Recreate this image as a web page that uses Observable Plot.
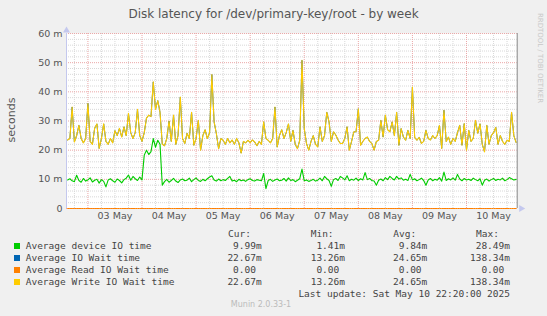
<!DOCTYPE html>
<html><head><meta charset="utf-8">
<script src="https://cdn.jsdelivr.net/npm/d3@7"></script>
<script src="https://cdn.jsdelivr.net/npm/@observablehq/plot@0.6"></script>
<style>
html,body{margin:0;padding:0;background:#F0F0F0;}
#wrap{position:relative;width:547px;height:316px;overflow:hidden;background:#F0F0F0;font-family:"DejaVu Sans",sans-serif;}
#wrap svg.plot{position:absolute;left:0;top:0;}
.t{position:absolute;white-space:pre;line-height:1;}
.mono{font-family:"DejaVu Sans Mono",monospace;font-size:9.5px;color:#444;}
</style></head><body><div id="wrap"></div>
<script>
// ---- data (milliseconds shown as "m"), hourly samples starting 2025-05-02 15:00 UTC ----
const firstSampleUTC = Date.UTC(2025, 4, 2, 15);
const deviceIoTime = [
9.8,10.2,9.5,9.2,11.4,9.6,9.0,10.3,9.4,9.8,10.5,9.1,9.7,10.0,8.7,9.9,9.3,7.4,9.8,10.2,
9.5,9.0,10.1,9.6,8.8,9.9,10.4,11.5,9.7,11.0,10.2,9.6,10.8,9.8,18.3,20.0,18.5,19.5,24.0,21.0,
23.4,22.0,8.0,9.2,10.0,9.0,9.6,10.3,9.4,8.9,9.8,10.1,9.5,9.7,10.4,9.2,9.9,10.5,9.6,9.3,
10.0,9.5,10.2,10.8,11.2,9.8,9.4,10.1,9.5,9.9,9.6,10.3,11.0,9.4,9.7,9.2,10.0,9.5,9.8,9.3,
9.9,10.2,9.6,9.4,9.9,9.7,9.5,12.0,6.8,9.6,10.0,9.3,9.8,10.1,9.5,9.7,10.3,9.4,10.5,9.6,
9.9,9.2,9.7,10.2,13.5,9.5,9.8,9.3,9.6,10.0,9.4,9.7,10.4,9.5,11.0,10.2,9.6,7.6,9.9,10.3,
9.6,11.0,10.5,9.8,11.2,9.5,10.0,9.7,10.4,9.6,10.2,9.8,12.3,9.9,10.3,9.6,9.4,8.0,9.7,10.1,
9.5,10.6,9.9,11.0,10.3,9.8,11.0,10.1,10.5,9.7,10.0,9.6,11.7,9.8,10.2,9.5,9.9,10.4,9.6,8.0,
9.8,10.3,9.5,10.0,9.7,10.6,9.4,12.5,9.6,10.2,9.8,10.5,9.7,11.7,10.1,9.5,10.3,9.8,10.0,9.6,
10.4,9.9,9.5,10.2,8.0,9.7,10.1,9.4,9.9,10.3,9.6,10.0,9.8,10.4,9.5,9.9,10.6,10.2,9.8,9.99];
const ioWaitTime = [
23.5,24,34.8,22.8,25,28.5,24,22.5,24,36,23,22,27.5,29,20.6,24,29,23,22,24,
22.5,26.7,25,27.5,24.5,28,25,32.6,26,24,26,34,25,23,26,31,32,31.5,43.4,34,
37,33,22,21.5,24,30,23,32,22,25,38.2,24,22.3,25.8,24,33,21.7,24,30.2,20,
25,27,24,26,45.9,29.7,25.7,20.5,24,23.4,22,24,22.5,23.5,22,24,22.5,19,23,22.5,
23.4,22.6,23.5,22.8,21.5,23,22,29.7,24,23.4,22.5,24,34.8,21.1,25,27,24,26,29,23,
26.8,22,20.5,23.4,50.8,27.4,22.3,20,23,25,22,21.1,28,23,25,33,29.7,23,26.3,25.2,
23.5,22.3,22.3,24,28,20,23,26.3,26.3,34.2,21.7,23,24,24.5,23,22.3,20,23,23.4,30.2,
24.5,32,27,26.3,29.7,25,33,21.7,27.4,24.5,23.4,26.8,24,41.6,24.4,23.4,24.4,22.3,23,26.8,
24,23.5,25,24,25,28.5,20.6,33.7,23,24.5,22,24,23,26,28.5,21.7,29.1,20,26.8,23,
24,30.2,25.8,29,22,19.4,28.5,22,25,26,27.8,22,25,23,22,23.4,23,33,25,22.67];
const writeIoWaitTime = ioWaitTime;               // identical to IO wait in the source
const readIoWaitTime = ioWaitTime.map(() => 0);   // read IO wait is 0.00 throughout

const seriesLabels = ["Average device IO time","Average IO Wait time","Average Read IO Wait time","Average Write IO Wait time"];
const seriesColors = ["#00CC00","#0066B3","#FF8000","#FFCC00"];
const curValues = ["9.99m","22.67m","0.00 ","22.67m"];
const minValues = ["1.41m","13.26m","0.00 ","13.26m"];
const avgValues = ["9.84m","24.65m","0.00 ","24.65m"];
const maxValues = ["28.49m","138.34m","0.00 ","138.34m"];
const yMajorTicks = [0,10,20,30,40,50,60];
const yMinorTicks = [2,4,6,8,12,14,16,18,22,24,26,28,32,34,36,38,42,44,46,48,52,54,56,58];
const titleText = "Disk latency for /dev/primary-key/root - by week";
const lastUpdate = "Last update: Sat May 10 22:20:00 2025";

// ---- build ----
const rows = deviceIoTime.map((v, i) => ({
  t: new Date(firstSampleUTC + i * 3600e3),
  dev: v, wait: ioWaitTime[i], read: readIoWaitTime[i], write: writeIoWaitTime[i]
}));
const xStart = new Date(Date.UTC(2025,4,2,14,30));
const xEnd = new Date(Date.UTC(2025,4,10,22,30));
const dayLines = d3.utcDay.range(new Date(Date.UTC(2025,4,3)), new Date(Date.UTC(2025,4,11)));
const sixHourLines = d3.utcHour.every(6).range(xStart, xEnd).filter(d => d.getUTCHours() !== 0);
const dayLabels = dayLines.map(d => d3.utcHour.offset(d, 12));
const minorC = "#D8D8D8", majorC = "#EBA8A8", axisC = "#C4C8EE";

const chart = Plot.plot({
  width: 547, height: 316,
  marginTop: 33, marginBottom: 108, marginLeft: 66, marginRight: 30.3,
  x: {type: "utc", domain: [xStart, xEnd]},
  y: {domain: [0, 60]},
  style: {background: "#F0F0F0", fontFamily: "DejaVu Sans", fontSize: "9.5px", color: "#555", overflow: "visible"},
  marks: [
    Plot.frame({fill: "white", stroke: "none"}),
    Plot.ruleY(yMinorTicks, {stroke: minorC, strokeDasharray: "1,1"}),
    Plot.ruleX(sixHourLines, {stroke: minorC, strokeDasharray: "1,1"}),
    Plot.ruleY(yMajorTicks, {stroke: majorC, strokeDasharray: "1,1"}),
    Plot.ruleX(dayLines, {stroke: majorC, strokeDasharray: "1,1"}),
    Plot.axisY({ticks: yMajorTicks, tickSize: 0, tickPadding: 4, label: null,
      tickFormat: v => v === 0 ? "0" : v + " m"}),
    Plot.axisX({ticks: dayLabels, tickSize: 0, tickPadding: 4, label: null,
      tickFormat: d3.utcFormat("%d %b")}),
    Plot.ruleX([xStart], {stroke: axisC}),
    Plot.ruleX([xEnd], {stroke: "#888"}),
    Plot.dot([0], {frameAnchor: "top-left", symbol: "triangle", r: 2.6, dy: -3, fill: axisC, stroke: "none"}),
    Plot.dot([0], {frameAnchor: "bottom-right", symbol: "triangle", r: 2.6, dx: 4, rotate: 90, fill: axisC, stroke: "none"}),
    Plot.line(rows, {x: "t", y: "dev", stroke: seriesColors[0], strokeWidth: 1.1}),
    Plot.line(rows, {x: "t", y: "wait", stroke: seriesColors[1], strokeWidth: 1}),
    Plot.line(rows, {x: "t", y: "read", stroke: seriesColors[2], strokeWidth: 1}),
    Plot.line(rows, {x: "t", y: "write", stroke: seriesColors[3], strokeWidth: 1.1})
  ]
});
chart.classList.add("plot");
const wrap = document.getElementById("wrap");
wrap.appendChild(chart);

function addText(txt, cls, css) {
  const d = document.createElement("div");
  d.className = "t " + cls;
  d.textContent = txt;
  Object.assign(d.style, css);
  wrap.appendChild(d);
  return d;
}
// title
addText(titleText, "", {left: "0", width: "547px", textAlign: "center", top: "7.5px", fontSize: "12px", color: "#555"});
// vertical axis title
addText("seconds", "", {left: "11px", top: "120px", fontSize: "11px", color: "#555", transform: "translate(-50%,-50%) rotate(-90deg)"});
// watermark
addText("RRDTOOL / TOBI OETIKER", "", {left: "539px", top: "58px", fontSize: "7px", color: "#C8C8C8", transform: "translate(-50%,-50%) rotate(90deg)"});
// legend header
const colStarts = [228, 310.7, 393.3, 476];
const colEnds = [261.7, 345, 427.3, 510];
["Cur:","Min:","Avg:","Max:"].forEach((h, j) => addText(h, "mono", {left: colStarts[j] + "px", top: (233.3 - 4.8) + "px"}));
const rowY = [245.7, 257.7, 269.7, 281.7];
seriesLabels.forEach((lab, i) => {
  const sq = document.createElement("div");
  Object.assign(sq.style, {position: "absolute", left: "13.5px", top: (rowY[i] - 3) + "px", width: "6px", height: "6px", background: seriesColors[i]});
  wrap.appendChild(sq);
  addText(lab, "mono", {left: "25.7px", top: (rowY[i] - 4.8) + "px"});
  [curValues, minValues, avgValues, maxValues].forEach((arr, j) =>
    addText(arr[i], "mono", {right: (547 - colEnds[j]) + "px", top: (rowY[i] - 4.8) + "px", textAlign: "right"}));
});
addText(lastUpdate, "mono", {right: (547 - 510) + "px", top: (294 - 4.8) + "px"});
addText("Munin 2.0.33-1", "", {left: "261px", top: "305px", fontSize: "8px", color: "#BBB", transform: "translate(-50%,-50%)"});
</script></body></html>
